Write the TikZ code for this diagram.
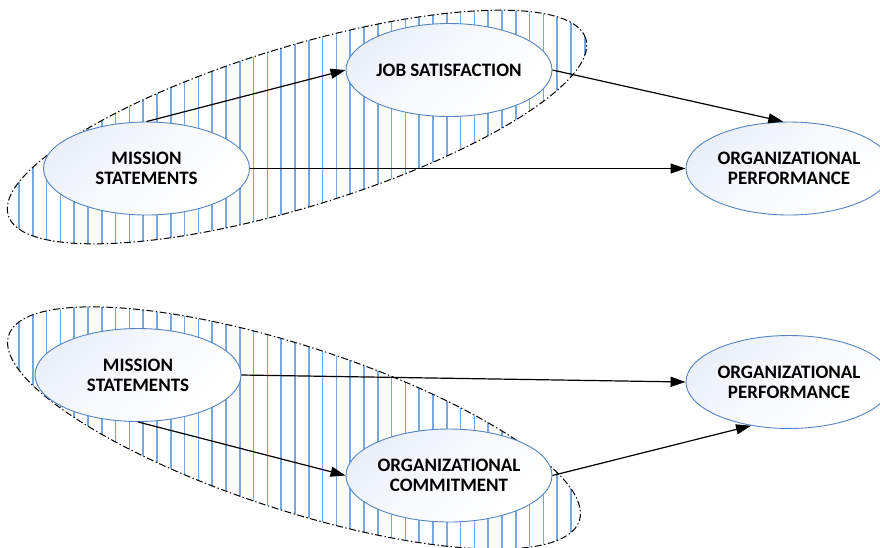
\documentclass[tikz,border=0pt]{standalone}
\usepackage{fontspec}
\setmainfont{Carlito}
\usetikzlibrary{arrows.meta,shapes.geometric,calc}
\definecolor{hatchblue}{RGB}{118,168,224}
\definecolor{nodeborder}{RGB}{84,132,194}
\definecolor{nodefill}{RGB}{234,239,248}
\tikzset{
  concept/.style={ellipse, draw=nodeborder, line width=0.9pt, inner sep=0pt,
    minimum width=206pt, minimum height=93pt, align=center,
    top color=nodefill, bottom color=white, middle color=white!70!nodefill, shading angle=40,
    font=\fontsize{19}{20}\selectfont\bfseries},
  grouping/.style={draw=black, line width=1pt,
    dash pattern=on 7pt off 2.5pt on 1.4pt off 2.5pt},
  hatchline/.style={draw=hatchblue, line width=1.6pt},
  link/.style={draw=black, line width=1.2pt, -{Triangle[length=15pt,width=10pt]}}
}
\begin{document}
\begin{tikzpicture}[x=1pt,y=-1pt]
\useasboundingbox (0,0) rectangle (880,547);
% ---- top grouping hatch
\begin{scope}
  \clip[rotate around={17:(297,127)}] (297,127) ellipse [x radius=302pt, y radius=80pt];
  \foreach \k in {0,...,43} { \draw[hatchline] ({19+13.8*\k},0) -- ({19+13.8*\k},260); }
\end{scope}
\draw[grouping, rotate around={17:(297,127)}] (297,127) ellipse [x radius=302pt, y radius=80pt];
% ---- bottom grouping hatch
\begin{scope}
  \clip[rotate around={-18:(294,428)}] (294,428) ellipse [x radius=300pt, y radius=82pt];
  \foreach \k in {0,...,43} { \draw[hatchline] ({19+13.8*\k},290) -- ({19+13.8*\k},560); }
\end{scope}
\draw[grouping, rotate around={-18:(294,428)}] (294,428) ellipse [x radius=300pt, y radius=82pt];
% ---- nodes
\node[concept] (ms1) at (146.5,168.5) {MISSION\\STATEMENTS};
\node[concept] (js)  at (449,70) {JOB SATISFACTION};
\node[concept] (op1) at (789,168.5) {ORGANIZATIONAL\\PERFORMANCE};
\node[concept] (ms2) at (138,375) {MISSION\\STATEMENTS};
\node[concept] (oc)  at (449,475.5) {ORGANIZATIONAL\\COMMITMENT};
\node[concept] (op2) at (789,382) {ORGANIZATIONAL\\PERFORMANCE};
% ---- connectors
\draw[link] (ms1.north) -- (js.west);
\draw[link] (js.east) -- (op1.97);
\draw[link] (ms1.east) -- (op1.west);
\draw[link] (ms2.east) -- (op2.west);
\draw[link] (ms2.south) -- (oc.west);
\draw[link] (oc.east) -- (op2.229);
\end{tikzpicture}
\end{document}
